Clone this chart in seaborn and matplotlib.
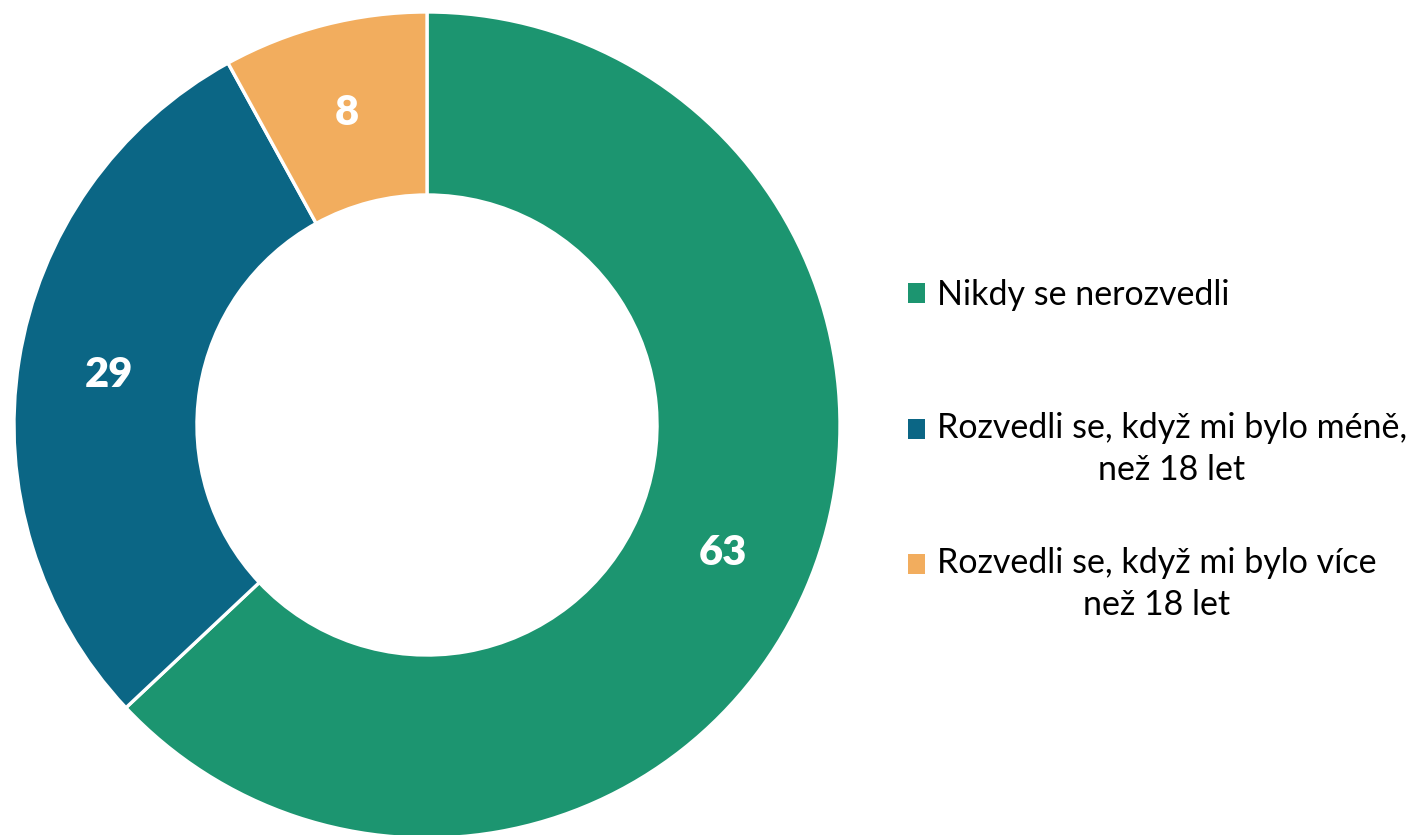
import matplotlib
matplotlib.use("Agg")
import matplotlib.pyplot as plt
import seaborn as sns
from matplotlib.patches import Patch

# data
labels = ["Nikdy se nerozvedli",
          "Rozvedli se, když mi bylo méně,\nnež 18 let",
          "Rozvedli se, když mi bylo více\nnež 18 let"]
values = [63, 29, 8]
colors = ["#1C9570", "#0B6685", "#F2AD5E"]

sns.set_theme(style="white")
plt.rcParams["font.family"] = ["Lato", "DejaVu Sans"]

fig = plt.figure(figsize=(14.19, 8.35), dpi=100)
ax = fig.add_axes([14 / 1419, -3 / 835, 826 / 1419, 826 / 835])

wedges, texts, autotexts = ax.pie(
    values, colors=colors, startangle=90, counterclock=False,
    radius=1.0, autopct="%.0f", pctdistance=0.78,
    wedgeprops=dict(width=0.443, edgecolor="white", linewidth=2.4),
    textprops=dict(color="white", fontsize=30, fontweight="heavy"))
for w in wedges:
    w.set_clip_on(False)
ax.set_xlim(-1, 1)
ax.set_ylim(-1, 1)
ax.set_aspect("equal")
ax.axis("off")

# legend: one block per entry, placed like the original
ys = [1 - 295 / 835, 1 - 449 / 835, 1 - 584 / 835]
for lab, col, y in zip(labels, colors, ys):
    leg = fig.legend(handles=[Patch(facecolor=col, edgecolor="none")], labels=[lab],
                     loc="center left", bbox_to_anchor=(908 / 1419, y),
                     frameon=False, fontsize=24.5, handlelength=0.5, handleheight=0.5,
                     handletextpad=0.35, borderpad=0, borderaxespad=0)
    for t in leg.get_texts():
        t.set_multialignment("center")
        t.set_linespacing(1.4)
        t.set_color("black")
    if "\n" in lab:
        # square sits next to the first line
        for h in leg.legend_handles:
            h.set_y(h.get_y() + 15)

fig.savefig("out.png", dpi=100)
